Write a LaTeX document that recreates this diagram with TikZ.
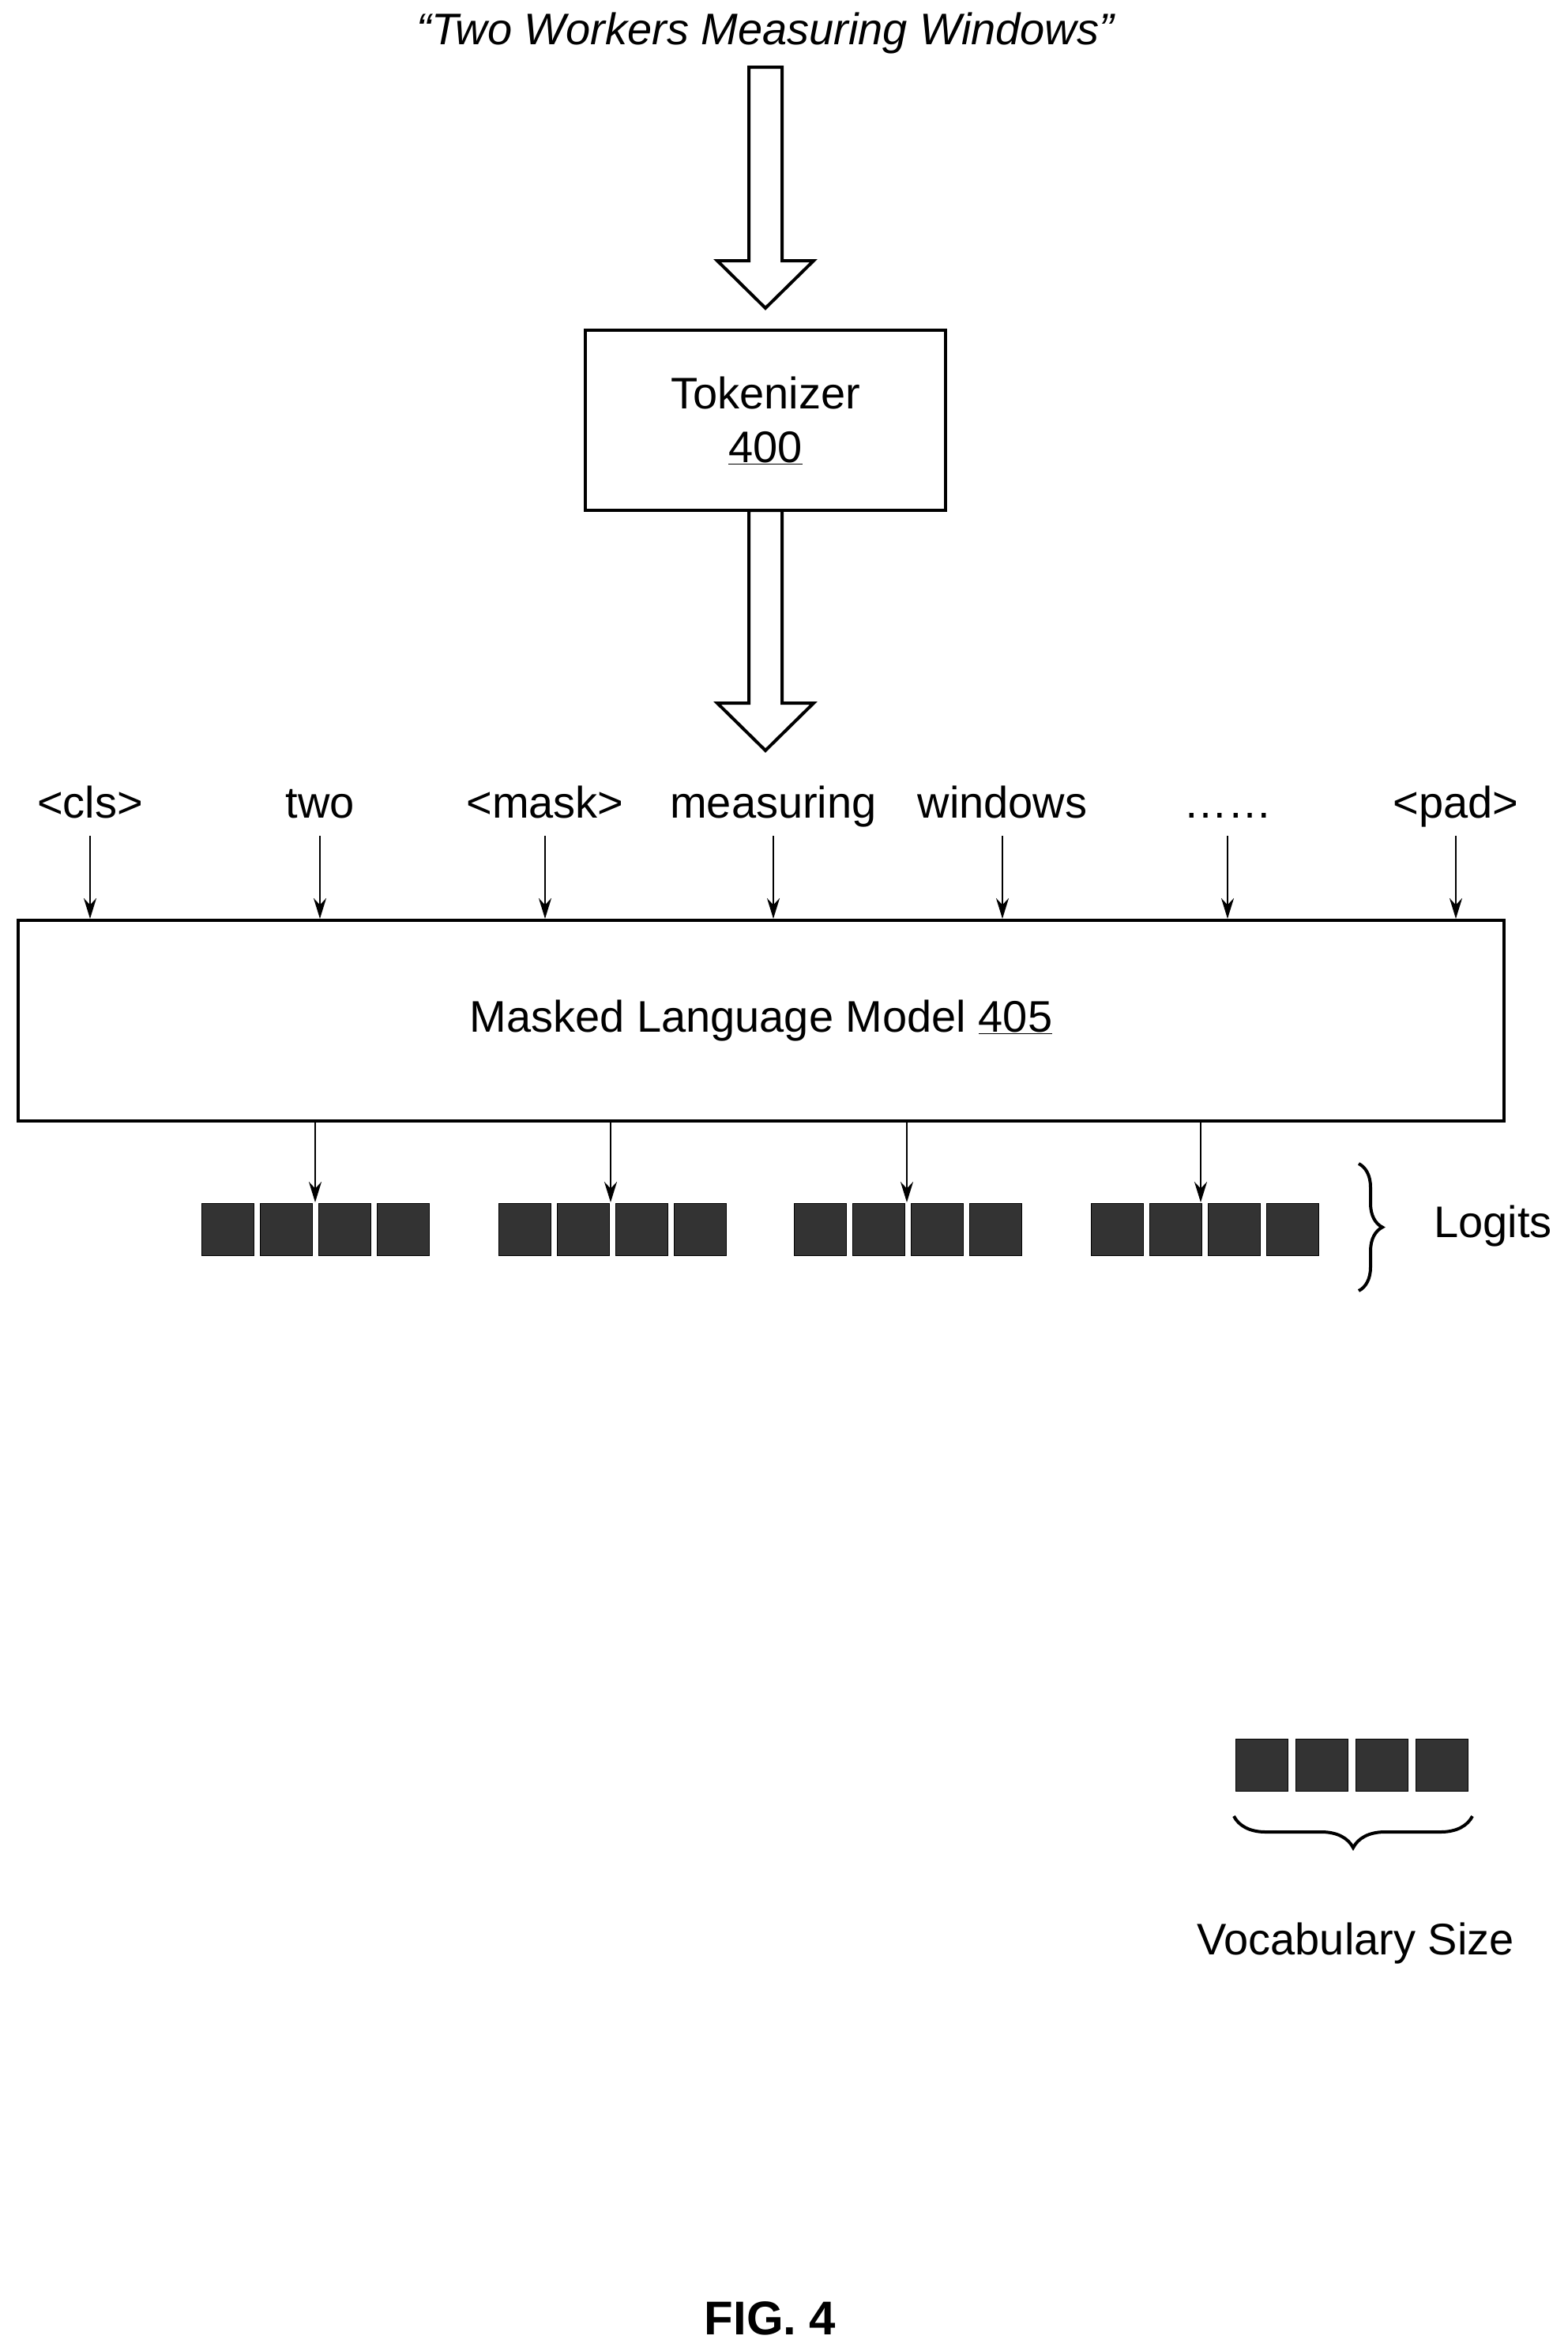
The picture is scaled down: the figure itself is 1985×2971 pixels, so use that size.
\documentclass[tikz,border=0pt]{standalone}
\usepackage{fontspec}
\setmainfont{Liberation Sans}
\usetikzlibrary{decorations.pathreplacing,arrows.meta}
\begin{document}
\begin{tikzpicture}[x=1pt,y=-1pt,
  txt/.style={font=\fontsize{56}{60}\selectfont, inner sep=0},
  box/.style={draw, line width=4pt, inner sep=0},
  sm/.style={-{Stealth[length=26pt,width=16pt]}, line width=2.5pt},
  big/.style={draw, line width=4pt, fill=white},
  sq/.style={fill=black!80, draw=black, line width=1pt, minimum width=66pt, minimum height=66pt, inner sep=0}]
\useasboundingbox (0,0) rectangle (1985,2971);
\node[txt, font=\fontsize{56}{60}\selectfont\itshape] (q) at (969,42) {“Two Workers Measuring Windows”};
\node[box, minimum width=456pt, minimum height=228pt, align=center, font=\fontsize{56}{60}\selectfont] (tok) at (969,532) {Tokenizer\\[8pt]\underline{400}};
% big arrows
\draw[big] (948,85) -- (990,85) -- (990,330) -- (1030,330) -- (969,390) -- (908,330) -- (948,330) -- cycle;
\draw[big] (948,646) -- (990,646) -- (990,890) -- (1030,890) -- (969,950) -- (908,890) -- (948,890) -- cycle;
\node[box, minimum width=1881pt, minimum height=254pt, font=\fontsize{56}{60}\selectfont] (mlm) at (963.5,1292) {Masked Language Model \underline{405}};
\foreach \n/\x/\t in {a/114/{<cls>},b/405/two,c/690/{<mask>},d/979/measuring,e/1269/windows,f/1554/{\dots\dots},g/1843/{<pad>}}{
  \node[txt, anchor=base] (t\n) at (\x,1035) {\t};
  \coordinate (s\n) at (\x,1058);
  \coordinate (e\n) at (\x,1163);
  \draw[sm] (s\n) -- (e\n);
}
\foreach \g/\x in {1/255,2/631,3/1005,4/1381}{
  \foreach \i in {0,1,2,3}{
    \node[sq] (g\g\i) at ({\x+33+\i*74},1556) {};
  }
}
\foreach \g/\x in {1/399,2/773,3/1148,4/1520}{
  \coordinate (o\g) at (\x,1421);
  \draw[sm] (o\g) -- (\x,1522);
}
\coordinate (b1) at (1720,1473);
\coordinate (b2) at (1720,1634);
\draw[line width=4pt, decorate, decoration={brace, amplitude=30pt}] (b1) -- (b2);
\node[txt, anchor=west] (lg) at (1815,1552) {Logits};
\foreach \i in {0,1,2,3}{
  \node[sq] (v\i) at ({1564+33+\i*76},2234) {};
}
\coordinate (c1) at (1864,2299);
\coordinate (c2) at (1562,2299);
\draw[line width=4pt, decorate, decoration={brace, amplitude=40pt}] (c1) -- (c2);
\node[txt] (vs) at (1716,2460) {Vocabulary Size};
\node[txt, font=\fontsize{60}{64}\selectfont\bfseries] (fig) at (975,2935) {FIG. 4};
\end{tikzpicture}
\end{document}
